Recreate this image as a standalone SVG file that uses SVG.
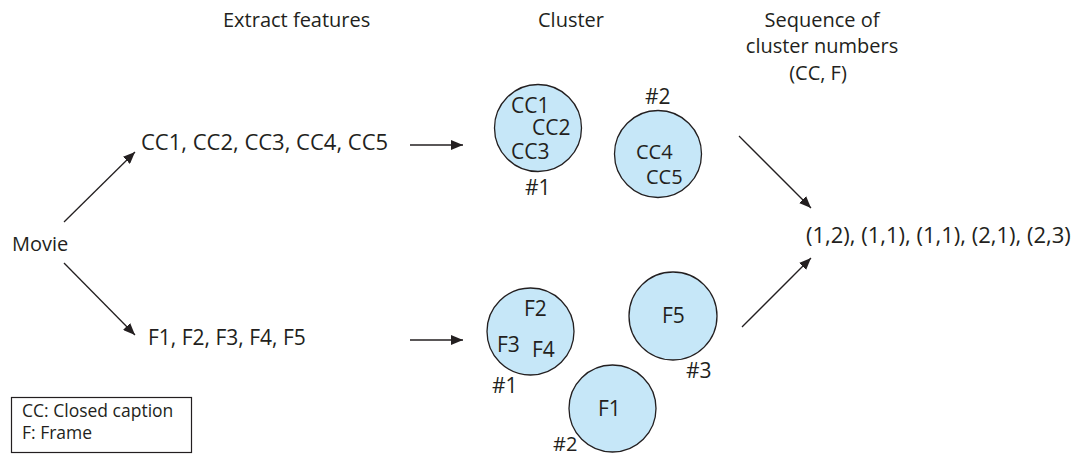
<svg xmlns="http://www.w3.org/2000/svg" width="1084" height="457" viewBox="0 0 1084 457">
<style>
text{font-family:"Open Sans","Liberation Sans",sans-serif;fill:#231f20;font-size:20px}
.hd{font-size:20px}
.bd{font-size:22px}
.cn{font-size:21px}
.lg{font-size:17.5px}
.cl{fill:#c6e7f8;stroke:#231f20;stroke-width:1.3}
.ar{stroke:#231f20;stroke-width:1.3;fill:none;marker-end:url(#ah)}
</style>
<defs>
<marker id="ah" viewBox="0 0 12 10" refX="12" refY="5" markerWidth="12" markerHeight="10" markerUnits="userSpaceOnUse" orient="auto">
<path d="M0,0 L12,5 L0,10 Z" fill="#231f20"/>
</marker>
</defs>
<g id="headers">
<text class="hd" x="223" y="27">Extract features</text>
<text class="hd" x="571" y="27" text-anchor="middle">Cluster</text>
<text class="hd" x="822" y="27" text-anchor="middle">Sequence of</text>
<text class="hd" x="822" y="53" text-anchor="middle">cluster numbers</text>
<text class="hd" x="818" y="80" text-anchor="middle">(CC, F)</text>
</g>
<g id="movie"><text x="12" y="251">Movie</text></g>
<g id="cc-features"><text class="bd" x="141" y="150">CC1, CC2, CC3, CC4, CC5</text></g>
<g id="f-features"><text class="cn" x="148" y="345">F1, F2, F3, F4, F5</text></g>
<g id="cc-cluster1">
<circle class="cl" cx="538" cy="128" r="43.5"/>
<text class="cn" x="511" y="113">CC1</text><text class="cn" x="532" y="135">CC2</text><text class="cn" x="511" y="159">CC3</text>
<text class="cn" x="525" y="195">#1</text>
</g>
<g id="cc-cluster2">
<circle class="cl" cx="658" cy="154" r="43.5"/>
<text x="636" y="159">CC4</text><text x="646" y="184">CC5</text>
<text class="cn" x="645" y="104">#2</text>
</g>
<g id="f-cluster1">
<circle class="cl" cx="530.5" cy="331.5" r="43.5"/>
<text class="cn" x="524" y="316">F2</text><text class="cn" x="497" y="352">F3</text><text class="cn" x="532" y="357">F4</text>
<text class="cn" x="492" y="393">#1</text>
</g>
<g id="f-cluster3">
<circle class="cl" cx="673" cy="316" r="44"/>
<text class="cn" x="662" y="323">F5</text>
<text class="cn" x="686" y="378">#3</text>
</g>
<g id="f-cluster2">
<circle class="cl" cx="612.5" cy="408.5" r="43.5"/>
<text class="cn" x="598" y="416">F1</text>
<text x="553" y="451">#2</text>
</g>
<g id="sequence"><text class="bd" x="806" y="243">(1,2), (1,1), (1,1), (2,1), (2,3)</text></g>
<g id="legend">
<rect x="11.5" y="397.5" width="180" height="55" fill="none" stroke="#231f20" stroke-width="1.2"/>
<text class="lg" x="22" y="417">CC: Closed caption</text>
<text class="lg" x="22" y="439">F: Frame</text>
</g>
<g id="connectors">
<line class="ar" x1="64" y1="222" x2="135" y2="152"/>
<line class="ar" x1="64" y1="263" x2="135" y2="335"/>
<line class="ar" x1="410" y1="145" x2="463" y2="145"/>
<line class="ar" x1="410" y1="340" x2="463" y2="340"/>
<line class="ar" x1="739" y1="136" x2="811" y2="208"/>
<line class="ar" x1="742" y1="327" x2="811" y2="258"/>
</g>
</svg>
